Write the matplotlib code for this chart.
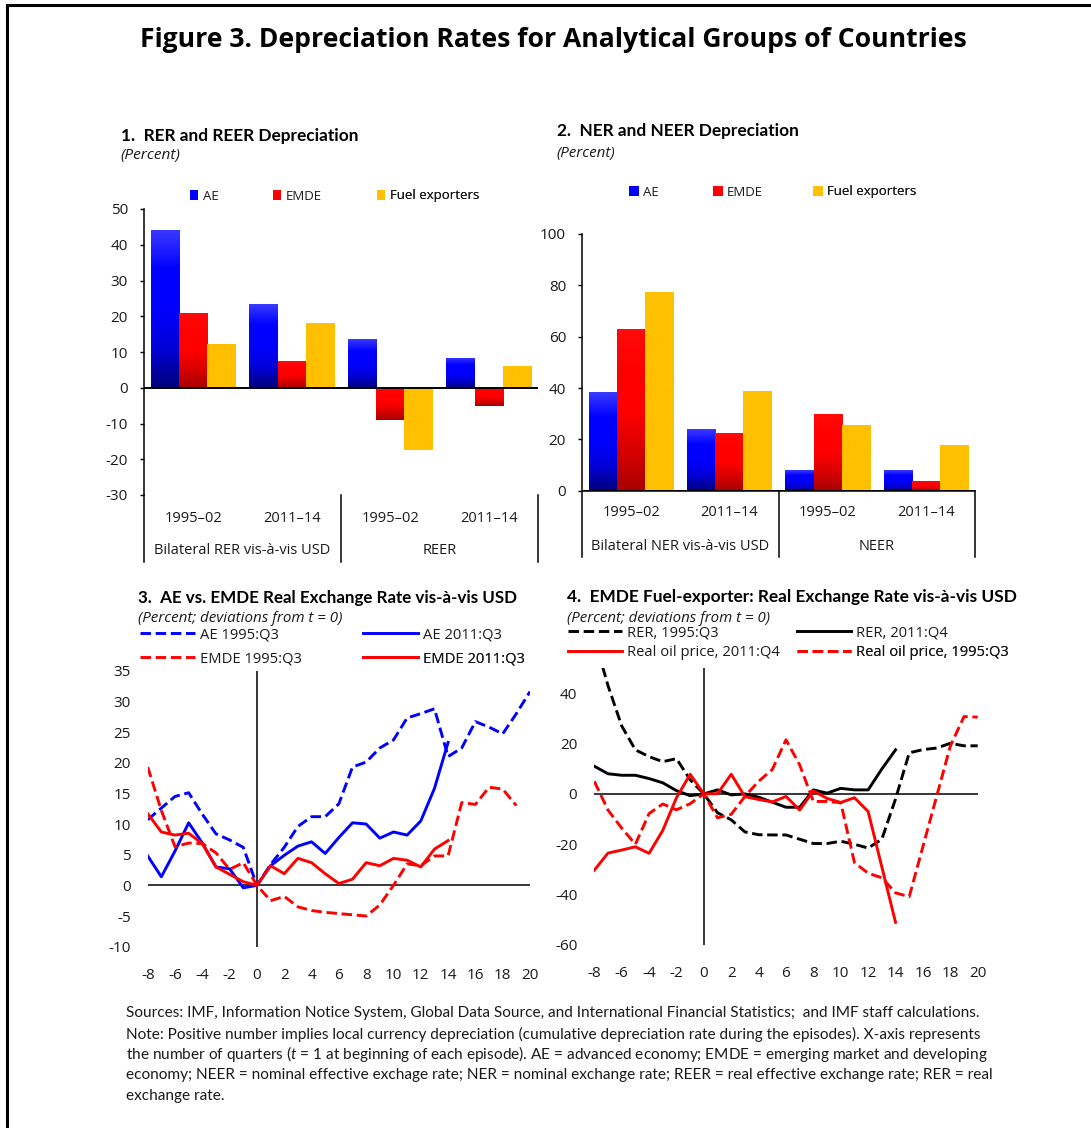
import numpy as np
import matplotlib
matplotlib.use('Agg')
import matplotlib.pyplot as plt
import matplotlib.transforms as mtransforms
from matplotlib.colors import LinearSegmentedColormap
from matplotlib.lines import Line2D
from matplotlib.patches import Patch

# ------------------------------------------------------------------ data
periods = ["1995–02", "2011–14", "1995–02", "2011–14"]
groups_p1 = ["Bilateral RER vis-à-vis USD", "REER"]
groups_p2 = ["Bilateral NER vis-à-vis USD", "NEER"]
bar_series = ["AE", "EMDE", "Fuel exporters"]

p1_ae = [44.2, 23.3, 13.7, 8.4]
p1_emde = [20.8, 7.4, -9.0, -5.2]
p1_fuel = [12.3, 18.0, -17.5, 6.2]

p2_ae = [38.4, 24.0, 8.1, 8.1]
p2_emde = [63.0, 22.5, 29.9, 3.8]
p2_fuel = [77.4, 38.8, 25.6, 17.8]

quarters = list(range(-8, 21))
xtick_vals = list(range(-8, 21, 2))

ae_1995 = [10.7, 12.6, 14.5, 15.1, 11.6, 8.4, 7.4, 6.2, 0.0, 3.4, 6.2, 9.6, 11.2,
           11.2, 13.3, 19.3, 20.1, 22.4, 23.7, 27.3, 28.0, 28.8, 21.0, 22.4, 26.7,
           25.8, 24.7, 28.0, 31.6]
ae_2011 = [4.8, 1.4, 5.6, 10.2, 6.9, 3.0, 2.7, -0.4, 0.0, 3.2, 4.9, 6.4, 7.1,
           5.2, 7.8, 10.2, 10.0, 7.7, 8.7, 8.2, 10.5, 15.8, 23.3]
emde_1995 = [19.3, 12.2, 6.3, 6.9, 6.8, 5.3, 2.6, 3.7, 0.0, -2.5, -1.8, -3.5,
             -4.1, -4.4, -4.6, -4.8, -5.0, -3.2, 0.0, 3.5, 3.2, 4.8, 4.8, 13.5,
             13.2, 16.0, 15.7, 13.0]
emde_2011 = [11.7, 8.7, 8.2, 8.5, 6.8, 3.0, 1.8, 0.6, 0.0, 3.2, 1.9, 4.4, 3.7,
             1.9, 0.3, 1.0, 3.7, 3.2, 4.4, 4.1, 3.0, 5.9, 7.3]

rer_1995 = [62.0, 43.0, 27.0, 17.5, 14.8, 12.8, 14.0, 5.6, 0.0, -7.5, -10.3,
            -15.1, -16.2, -16.3, -16.3, -18.0, -19.7, -19.7, -18.8, -20.0,
            -21.5, -18.0, -2.0, 16.3, 17.6, 18.2, 20.1, 19.1, 19.1]
rer_2011 = [11.0, 8.0, 7.4, 7.4, 6.1, 4.4, 1.3, -0.7, 0.0, 1.6, -0.4, 0.0, -1.3,
            -3.3, -5.3, -5.3, 1.6, 0.3, 2.2, 1.6, 1.6, 9.9, 17.5]
oil_2011 = [-30.3, -23.5, -22.3, -21.0, -23.6, -14.5, -1.5, 7.8, 0.0, 0.1, 7.8,
            -1.1, -2.2, -3.2, -1.0, -6.4, 1.2, -1.8, -3.4, -1.5, -7.0, -29.0, -51.0]
oil_1995 = [5.0, -6.4, -13.6, -20.0, -7.8, -4.0, -6.3, -3.9, 0.0, -9.5, -8.1,
            -1.0, 5.0, 9.7, 21.5, 11.5, -3.0, -3.0, -3.5, -27.3, -31.5, -33.3,
            -39.3, -40.8, -20.9, -1.0, 19.0, 30.7, 30.5]

# ------------------------------------------------------------------ setup
W, H, DPI = 1091, 1128, 100
plt.rcParams['font.family'] = ['Open Sans', 'DejaVu Sans']
plt.rcParams['axes.unicode_minus'] = False
plt.rcParams['mathtext.fontset'] = 'custom'
plt.rcParams['mathtext.rm'] = 'Lato'
plt.rcParams['mathtext.it'] = 'Lato:italic'

fig = plt.figure(figsize=(W / DPI, H / DPI), dpi=DPI)
T = mtransforms.Affine2D().scale(1, -1).translate(0, H)   # pixel (from top-left) -> display
renderer = fig.canvas.get_renderer()
TXT = '#1a1a1a'
TICK_FS = 11
CAT_FS = 10.5

BLUE, RED, YEL = '#0000FF', '#FF0000', '#FFC000'
blue_stops = ['#00007a', '#0000d8', '#0000ff', '#0000ff', '#3a3aff']
red_stops = ['#a80000', '#d80000', '#ff0000', '#ff0000', '#ff0a0a']
yel_stops = [YEL, YEL]


def ftext(x, y, s, width=None, ha='left', va='center', **kw):
    t = fig.text(x, y, s, transform=T, ha=ha, va=va, **kw)
    if width:
        bb = t.get_window_extent(renderer)
        t.set_fontsize(t.get_fontsize() * width / bb.width)
    return t


def ax_px(l, t, r, b):
    return fig.add_axes([l / W, 1 - b / H, (r - l) / W, (b - t) / H])


def gradient_bars(ax, xs, vals, width, stops):
    bars = ax.bar(xs, vals, width, color=stops[2 if len(stops) > 2 else 0],
                  linewidth=0, zorder=2)
    cmap = LinearSegmentedColormap.from_list('g', stops)
    grad = np.linspace(0, 1, 256).reshape(-1, 1)
    for b in bars:
        x0, w, y0, h = b.get_x(), b.get_width(), b.get_y(), b.get_height()
        lo, hi = min(y0, y0 + h), max(y0, y0 + h)
        im = ax.imshow(grad, extent=[x0, x0 + w, lo, hi], origin='lower',
                       cmap=cmap, aspect='auto', zorder=2.1,
                       interpolation='bilinear')
        im.set_clip_path(b)
    return bars


def add_leg(ax, handle, label, x, y, fs, hl_px, hh_px=None, gap_px=5):
    em = fs * DPI / 72.0
    kw = dict(loc='center left', bbox_to_anchor=(x, H - y),
              bbox_transform=mtransforms.IdentityTransform(), frameon=False,
              borderpad=0, borderaxespad=0, handlelength=hl_px / em,
              handletextpad=gap_px / em, prop={'size': fs})
    if hh_px:
        kw['handleheight'] = hh_px / em
    lg = ax.legend([handle], [label], **kw)
    for t in lg.get_texts():
        t.set_color(TXT)
    ax.add_artist(lg)
    return lg


def bar_panel(ax, ae, emde, fuel, ylim, yticks, top_px, bot_px, cat_y, grp_y,
              sep_bot, groups, bottom_spine):
    cats = np.arange(len(periods))
    bw = 0.287
    gradient_bars(ax, cats - bw, ae, bw, blue_stops)
    gradient_bars(ax, cats, emde, bw, red_stops)
    gradient_bars(ax, cats + bw, fuel, bw, yel_stops)
    ax.set_xlim(-0.5, len(periods) - 0.5)
    ax.set_ylim(*ylim)
    ax.set_yticks(yticks)
    ax.set_xticks([])
    for s in ['top', 'right']:
        ax.spines[s].set_visible(False)
    ax.spines['bottom'].set_visible(bottom_spine)
    ax.spines['left'].set_linewidth(1.1)
    ax.spines['bottom'].set_linewidth(1.1)
    ax.axhline(0, color='black', lw=1.4, zorder=3)
    ax.tick_params(axis='y', direction='out', length=3, width=1, pad=8.5,
                   labelsize=TICK_FS, labelcolor=TXT)
    bt = mtransforms.blended_transform_factory(ax.transData, T)
    for xv in [-0.5, 1.5, 3.5]:
        ax.add_artist(Line2D([xv, xv], [bot_px, sep_bot], transform=bt,
                             color='black', lw=1.1, clip_on=False))
    for c, p in zip(cats, periods):
        ax.text(c, cat_y, p, transform=bt, ha='center', va='center',
                fontsize=CAT_FS, color=TXT)
    for i, g in enumerate(groups):
        ax.text(2 * i + 0.5, grp_y, g, transform=bt, ha='center', va='center',
                fontsize=CAT_FS, color=TXT)


# ------------------------------------------------------------------ frame
fig.add_artist(Line2D([7, W], [H - 5, H - 5], transform=mtransforms.IdentityTransform(),
                      color='black', lw=2.2))
fig.add_artist(Line2D([7, 7], [H - 5, 0], transform=mtransforms.IdentityTransform(),
                      color='black', lw=2.2))

ftext(553.5, 40, "Figure 3. Depreciation Rates for Analytical Groups of Countries",
      width=827, ha='center', fontsize=17, fontweight='bold', color='black')

# ------------------------------------------------------------------ panel 1
ax1 = ax_px(144, 209, 538, 495)
bar_panel(ax1, p1_ae, p1_emde, p1_fuel, (-30, 50), list(range(-30, 51, 10)),
          209, 495, 518, 551, 562, groups_p1, False)
ftext(120.7, 136, "1.  RER and REER Depreciation", width=236, fontsize=11,
      fontweight='bold', family=['Lato', 'DejaVu Sans'], color='black')
ftext(120.7, 156, "(Percent)", width=60, fontsize=9, style='italic',
      color=TXT)
leg_cols = [BLUE, RED, YEL]
for name, col, xp in zip(bar_series, leg_cols, [190, 273, 377]):
    add_leg(ax1, Patch(facecolor=col, edgecolor='none'), name, xp, 196, 9.5,
            8, 10, 5)

# ------------------------------------------------------------------ panel 2
ax2 = ax_px(582, 234, 975, 490.7)
bar_panel(ax2, p2_ae, p2_emde, p2_fuel, (0, 100), list(range(0, 101, 20)),
          234, 490.7, 513, 547, 557, groups_p2, True)
ftext(556.7, 131, "2.  NER and NEER Depreciation", width=242, fontsize=11,
      fontweight='bold', family=['Lato', 'DejaVu Sans'], color='black')
ftext(556.7, 153, "(Percent)", width=59, fontsize=9, style='italic', color=TXT)
for name, col, xp in zip(bar_series, leg_cols, [629, 713, 813]):
    add_leg(ax2, Patch(facecolor=col, edgecolor='none'), name, xp, 192, 9.5,
            10, 9.5, 4)

# ------------------------------------------------------------------ line panels
LW = 2.1
DASH = (0, (3.6, 1.6))


def line_axes(ax, ylim, yticks):
    ax.set_xlim(quarters[0], quarters[-1])
    ax.set_ylim(*ylim)
    ax.set_xticks(xtick_vals)
    ax.set_yticks(yticks)
    for s in ax.spines.values():
        s.set_visible(False)
    ax.axhline(0, color='black', lw=1.1, zorder=1)
    ax.axvline(0, color='black', lw=1.1, zorder=1)
    ax.tick_params(axis='y', length=0, pad=12.2, labelsize=TICK_FS, labelcolor=TXT)
    ax.tick_params(axis='x', length=0, pad=15, labelsize=TICK_FS, labelcolor=TXT)
    ax.patch.set_visible(False)


# panel 3
ax3 = ax_px(147.7, 670.7, 530, 946.7)
line_axes(ax3, (-10, 35), list(range(-10, 36, 5)))
l_ae95, = ax3.plot(quarters[:len(ae_1995)], ae_1995, color=BLUE, lw=LW, ls=DASH)
l_ae11, = ax3.plot(quarters[:len(ae_2011)], ae_2011, color=BLUE, lw=LW)
l_em95, = ax3.plot(quarters[:len(emde_1995)], emde_1995, color=RED, lw=LW, ls=DASH)
l_em11, = ax3.plot(quarters[:len(emde_2011)], emde_2011, color=RED, lw=LW)
ftext(137.7, 598, "3.  AE vs. EMDE Real Exchange Rate vis-à-vis USD", width=381,
      fontsize=11, fontweight='bold', family=['Lato', 'DejaVu Sans'], color='black')
ftext(137.7, 619, "(Percent; deviations from t = 0)", width=205, fontsize=9,
      style='italic', color=TXT)
LEG_FS = 10.6
add_leg(ax3, l_ae95, "AE 1995:Q3", 140, 635, LEG_FS, 55)
add_leg(ax3, l_ae11, "AE 2011:Q3", 363, 635, LEG_FS, 55)
add_leg(ax3, l_em95, "EMDE 1995:Q3", 140, 659, LEG_FS, 55)
add_leg(ax3, l_em11, "EMDE 2011:Q3", 363, 659, LEG_FS, 55)

# panel 4
ax4 = ax_px(594.3, 668, 977.7, 945)
line_axes(ax4, (-60, 50), list(range(-60, 41, 20)))
l_r95, = ax4.plot(quarters[:len(rer_1995)], rer_1995, color='black', lw=LW, ls=DASH)
l_r11, = ax4.plot(quarters[:len(rer_2011)], rer_2011, color='black', lw=LW)
l_o11, = ax4.plot(quarters[:len(oil_2011)], oil_2011, color=RED, lw=LW)
l_o95, = ax4.plot(quarters[:len(oil_1995)], oil_1995, color=RED, lw=LW, ls=DASH)
ftext(566.7, 597, "4.  EMDE Fuel-exporter: Real Exchange Rate vis-à-vis USD",
      width=448, fontsize=11, fontweight='bold', family=['Lato', 'DejaVu Sans'],
      color='black')
ftext(566.7, 618, "(Percent; deviations from t = 0)", width=204, fontsize=9,
      style='italic', color=TXT)
add_leg(ax4, l_r95, "RER, 1995:Q3", 567.7, 633, LEG_FS, 54)
add_leg(ax4, l_r11, "RER, 2011:Q4", 797, 633, LEG_FS, 54)
add_leg(ax4, l_o11, "Real oil price, 2011:Q4", 567.7, 653, LEG_FS, 54)
add_leg(ax4, l_o95, "Real oil price, 1995:Q3", 797, 653, LEG_FS, 54)

# ------------------------------------------------------------------ notes
notes = [
    ("Sources: IMF, Information Notice System, Global Data Source, and International "
     "Financial Statistics;  and IMF staff calculations.", 1013, 977),
    ("Note: Positive number implies local currency depreciation (cumulative "
     "depreciation rate during the episodes). X-axis represents", 1034, 988),
    ("the number of quarters ($t$ = 1 at beginning of each episode). AE = advanced "
     "economy; EMDE = emerging market and developing", 1054, 1006),
    ("economy; NEER = nominal effective exchage rate; NER = nominal exchange rate; "
     "REER = real effective exchange rate; RER = real", 1075, 996),
    ("exchange rate.", 1096, None),
]
note_x = 126
objs, sizes = [], []
for s, y, xr in notes:
    t = ftext(note_x, y, s, width=(xr - note_x) if xr else None, fontsize=9.5,
              family=['Lato', 'DejaVu Sans'], color=TXT)
    objs.append(t)
    if xr:
        sizes.append(t.get_fontsize())
fs_note = float(np.mean(sizes))
for t in objs:
    t.set_fontsize(fs_note)

fig.savefig('out.png', dpi=DPI)
